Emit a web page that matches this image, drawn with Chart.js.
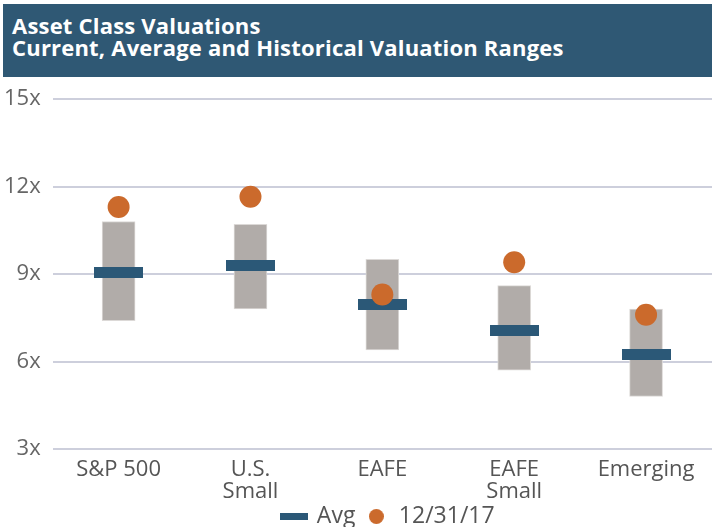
<!DOCTYPE html>
<html>
<head>
<meta charset="utf-8">
<script src="https://cdn.jsdelivr.net/npm/chart.js@4"></script>
<style>
  body { margin: 0; background: #fff; }
  #wrap { position: absolute; left: 0; top: 0; width: 712px; height: 527px; }
  #header {
    position: absolute; left: 3px; top: 4px; width: 709px; height: 73px;
    background: #2f5874; color: #fff; z-index: 2;
    font-family: "Open Sans", sans-serif; font-weight: 700; font-size: 22px;
    line-height: 22px; box-sizing: border-box; padding: 10px 0 0 9px;
    letter-spacing: 0.2px;
  }
</style>
</head>
<body>
<div id="header">Asset Class Valuations<br>Current, Average and Historical Valuation Ranges</div>
<div id="wrap"><canvas id="chart"></canvas></div>
<script>
// values
const categories = [["S&P 500"], ["U.S.", "Small"], ["EAFE"], ["EAFE", "Small"], ["Emerging"]];
const rangeLow = [7.4, 7.8, 6.4, 5.7, 4.8];
const rangeHigh = [10.8, 10.7, 9.5, 8.6, 7.8];
const avgValues = [9.05, 9.3, 7.95, 7.05, 6.25];
const currentValues = [11.3, 11.65, 8.3, 9.4, 7.6];
const yTicks = [3, 6, 9, 12, 15];

const navy = "#2b5877";
const orange = "#cb6a2c";
const grey = "#b1aca9";

// little canvases used as point styles
function makeRect(w, h, color) {
  const c = document.createElement("canvas");
  c.width = w; c.height = h;
  const g = c.getContext("2d");
  g.fillStyle = color;
  g.fillRect(0, 0, w, h);
  return c;
}
function makeOval(w, h, color) {
  const c = document.createElement("canvas");
  c.width = w; c.height = h;
  const g = c.getContext("2d");
  g.fillStyle = color;
  g.beginPath();
  g.ellipse(w / 2, h / 2, w / 2, h / 2, 0, 0, Math.PI * 2);
  g.fill();
  return c;
}
const avgMarker = makeRect(49, 11, navy);
const avgLegend = makeRect(28, 7, navy);
const dotLegend = makeOval(15, 15, orange);

const ranges = rangeLow.map((lo, i) => [lo, rangeHigh[i]]);

// legend in the original sits right of centre, near the bottom edge
const legendShift = {
  id: "legendShift",
  afterLayout(chart) {
    const lg = chart.legend;
    const h = lg.bottom - lg.top;
    lg.left += 32;
    lg.right += 32;
    lg.top = 495;
    lg.bottom = lg.top + h;
  }
};

new Chart(document.getElementById("chart"), {
  data: {
    labels: categories,
    datasets: [
      {
        type: "line",
        label: "12/31/17",
        data: currentValues,
        showLine: false,
        pointRadius: 11,
        pointHoverRadius: 11,
        pointBackgroundColor: orange,
        pointBorderWidth: 0,
        order: 0
      },
      {
        type: "line",
        label: "Avg",
        data: avgValues,
        showLine: false,
        pointStyle: avgMarker,
        order: 1
      },
      {
        type: "bar",
        label: "Range",
        data: ranges,
        backgroundColor: grey,
        borderColor: "#dcd9d7",
        borderWidth: 1,
        borderSkipped: false,
        barThickness: 33,
        order: 2
      }
    ]
  },
  plugins: [legendShift],
  options: {
    responsive: true,
    maintainAspectRatio: false,
    animation: false,
    layout: { autoPadding: false, padding: { top: 99, right: -10, left: -8, bottom: -21 } },
    plugins: {
      tooltip: { enabled: false },
      legend: {
        position: "bottom",
        labels: {
          usePointStyle: true,
          pointStyleWidth: 22,
          padding: 10,
          color: "#555",
          font: { family: "Open Sans", size: 23 },
          generateLabels: () => [
            { text: "Avg", pointStyle: avgLegend, fillStyle: navy, strokeStyle: navy, lineWidth: 0, datasetIndex: 1, fontColor: "#555" },
            { text: "12/31/17", pointStyle: dotLegend, fillStyle: orange, strokeStyle: orange, lineWidth: 0, datasetIndex: 0, fontColor: "#555" }
          ]
        }
      }
    },
    scales: {
      x: {
        grid: { display: false },
        border: { display: false },
        ticks: {
          color: "#555",
          padding: 2,
          maxRotation: 0,
          font: { family: "Open Sans", size: 22, lineHeight: 1.0 }
        }
      },
      y: {
        min: yTicks[0],
        max: yTicks[yTicks.length - 1],
        afterBuildTicks: axis => { axis.ticks = yTicks.map(v => ({ value: v })); },
        grid: { color: "#cdcfdc", lineWidth: 2, drawTicks: false },
        border: { display: false },
        ticks: {
          color: "#666",
          padding: 12,
          font: { family: "Open Sans", size: 22 },
          callback: v => v + "x"
        }
      }
    }
  }
});
</script>
</body>
</html>
